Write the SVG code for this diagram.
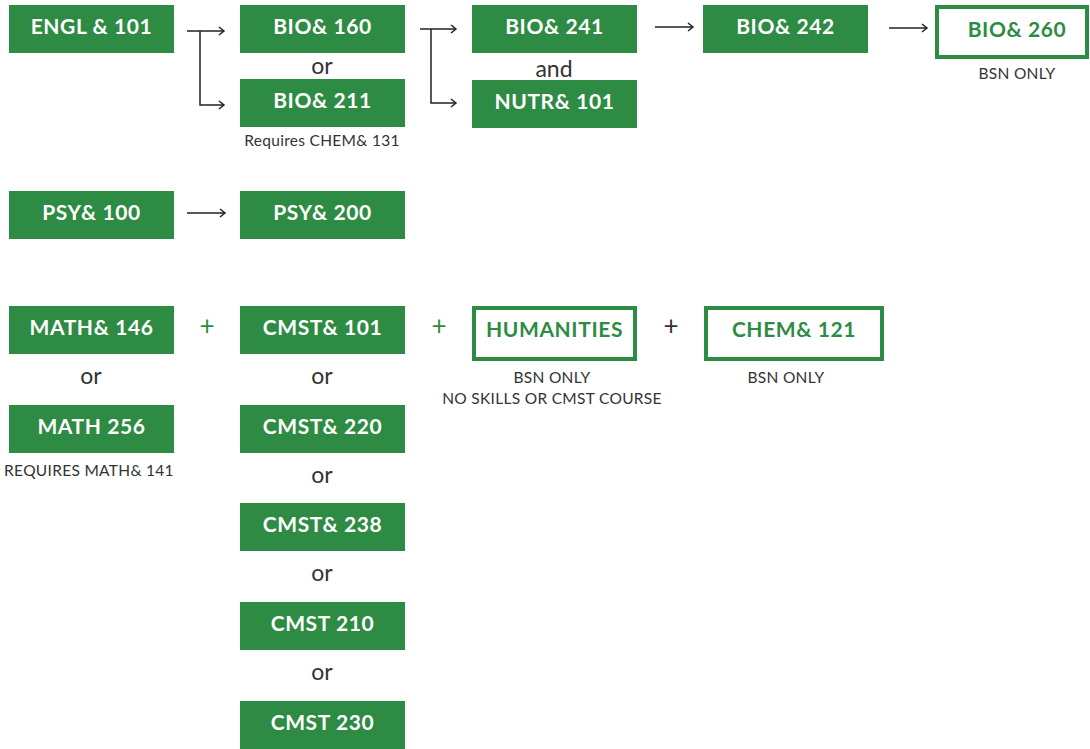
<svg xmlns="http://www.w3.org/2000/svg" width="1090" height="749" viewBox="0 0 1090 749">
<defs>
<marker id="ah" markerWidth="10" markerHeight="10" refX="8" refY="5" orient="auto" markerUnits="userSpaceOnUse">
<path d="M3,1 L8,5 L3,9" fill="none" stroke="#222" stroke-width="1.5"/>
</marker>
<style>
.b{fill:#2E8B43}
.o{fill:#fff;stroke:#2E8B43;stroke-width:4}
.t{font-family:Lato,"Noto Sans",sans-serif;font-weight:700;font-size:21px;letter-spacing:0.6px;fill:#fff;text-anchor:middle}
.tg{font-family:Lato,"Noto Sans",sans-serif;font-weight:700;font-size:21px;letter-spacing:0.6px;fill:#2E8B43;text-anchor:middle}
.or{font-family:Lato,"Noto Sans",sans-serif;font-size:23px;fill:#333;text-anchor:middle}
.s{font-family:Lato,"Noto Sans",sans-serif;font-size:15.5px;letter-spacing:0.3px;fill:#333;text-anchor:middle}
.pl{font-family:Lato,"Noto Sans",sans-serif;font-size:26px;text-anchor:middle}
.c{fill:none;stroke:#222;stroke-width:1.5}
</style>
</defs>
<rect width="1090" height="749" fill="#fff"/>
<g id="connectors">
<path class="c" d="M187,31 H224" marker-end="url(#ah)"/>
<path class="c" d="M200,31 V105 H224" marker-end="url(#ah)"/>
<path class="c" d="M420,29 H456" marker-end="url(#ah)"/>
<path class="c" d="M431,29 V103 H456" marker-end="url(#ah)"/>
<path class="c" d="M655,27 H693" marker-end="url(#ah)"/>
<path class="c" d="M889,28 H927" marker-end="url(#ah)"/>
<path class="c" d="M187,213 H225" marker-end="url(#ah)"/>
</g>
<g id="engl101"><rect class="b" x="9" y="5" width="165" height="48"/><text class="t" x="91.5" y="33.5">ENGL &amp; 101</text></g>
<g id="bio160"><rect class="b" x="240" y="5" width="165" height="48"/><text class="t" x="322.5" y="33.5">BIO&amp; 160</text></g>
<text class="or" x="322" y="74">or</text>
<g id="bio211"><rect class="b" x="240" y="79" width="165" height="48"/><text class="t" x="322.5" y="107.5">BIO&amp; 211</text></g>
<text class="s" x="322" y="146">Requires CHEM&amp; 131</text>
<g id="bio241"><rect class="b" x="472" y="5" width="165" height="48"/><text class="t" x="554.5" y="33.5">BIO&amp; 241</text></g>
<text class="or" x="554" y="77">and</text>
<g id="nutr101"><rect class="b" x="472" y="80" width="165" height="48"/><text class="t" x="554.5" y="108.5">NUTR&amp; 101</text></g>
<g id="bio242"><rect class="b" x="703" y="5" width="165" height="48"/><text class="t" x="785.5" y="33.5">BIO&amp; 242</text></g>
<g id="bio260"><rect class="o" x="937" y="7" width="150" height="50"/><text class="tg" x="1017" y="37">BIO&amp; 260</text></g>
<text class="s" x="1017" y="79">BSN ONLY</text>
<g id="psy100"><rect class="b" x="9" y="191" width="165" height="48"/><text class="t" x="91.5" y="219.5">PSY&amp; 100</text></g>
<g id="psy200"><rect class="b" x="240" y="191" width="165" height="48"/><text class="t" x="322.5" y="219.5">PSY&amp; 200</text></g>
<g id="math146"><rect class="b" x="9" y="306" width="165" height="48"/><text class="t" x="91.5" y="334.5">MATH&amp; 146</text></g>
<text class="pl" x="207" y="335" fill="#2E8B43">+</text>
<g id="cmst101"><rect class="b" x="240" y="306" width="165" height="48"/><text class="t" x="322.5" y="334.5">CMST&amp; 101</text></g>
<text class="pl" x="439" y="335" fill="#2E8B43">+</text>
<g id="humanities"><rect class="o" x="474" y="308" width="161" height="51"/><text class="tg" x="554.5" y="337">HUMANITIES</text></g>
<text class="pl" x="671" y="335" fill="#333">+</text>
<g id="chem121"><rect class="o" x="706" y="308" width="176" height="51"/><text class="tg" x="794" y="337">CHEM&amp; 121</text></g>
<text class="s" x="552" y="383">BSN ONLY</text>
<text class="s" x="552" y="404">NO SKILLS OR CMST COURSE</text>
<text class="s" x="786" y="383">BSN ONLY</text>
<text class="or" x="91" y="384">or</text>
<g id="math256"><rect class="b" x="9" y="405" width="165" height="48"/><text class="t" x="91.5" y="433.5">MATH 256</text></g>
<text class="s" x="89" y="476">REQUIRES MATH&amp; 141</text>
<text class="or" x="322" y="384">or</text>
<g id="cmst220"><rect class="b" x="240" y="405" width="165" height="48"/><text class="t" x="322.5" y="433.5">CMST&amp; 220</text></g>
<text class="or" x="322" y="483">or</text>
<g id="cmst238"><rect class="b" x="240" y="503" width="165" height="48"/><text class="t" x="322.5" y="531.5">CMST&amp; 238</text></g>
<text class="or" x="322" y="581">or</text>
<g id="cmst210"><rect class="b" x="240" y="602" width="165" height="48"/><text class="t" x="322.5" y="630.5">CMST 210</text></g>
<text class="or" x="322" y="680">or</text>
<g id="cmst230"><rect class="b" x="240" y="701" width="165" height="48"/><text class="t" x="322.5" y="729.5">CMST 230</text></g>
</svg>
